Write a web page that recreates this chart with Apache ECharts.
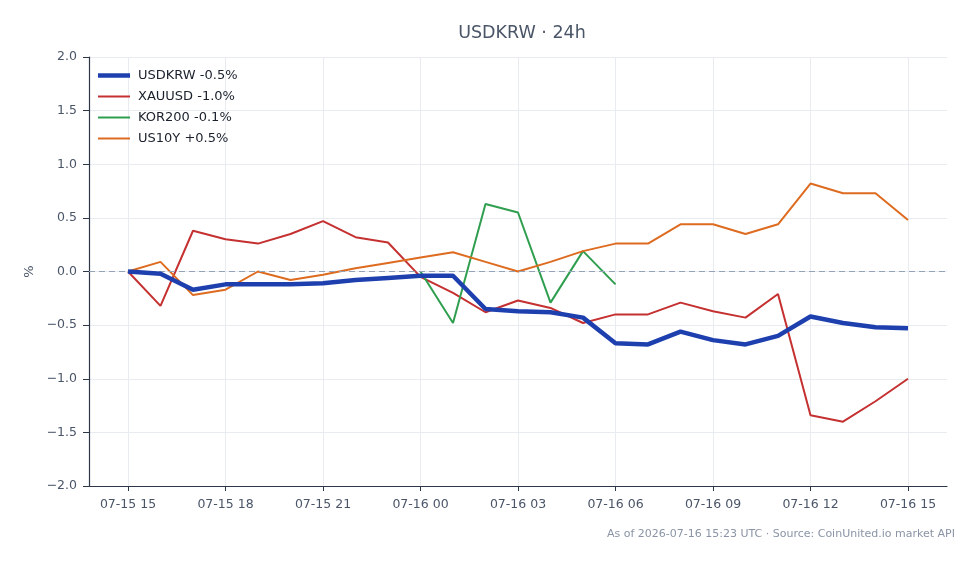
<!DOCTYPE html>
<html>
<head>
<meta charset="utf-8">
<script src="https://cdn.jsdelivr.net/npm/echarts@6/dist/echarts.min.js"></script>
<style>
  html, body { margin: 0; padding: 0; background: #fff; }
  #chart { width: 979px; height: 564px; }
</style>
</head>
<body>
<div id="chart"></div>
<script>
// hours since 07-15 15:00 UTC
var hours = [0,1,2,3,4,5,6,7,8,9,10,11,12,13,14,15,16,17,18,19,20,21,22,23,24];
var tickHours = [0, 3, 6, 9, 12, 15, 18, 21, 24];
var tickLabels = ['07-15 15','07-15 18','07-15 21','07-16 00','07-16 03','07-16 06','07-16 09','07-16 12','07-16 15'];

var usdkrw = [0.00,-0.02,-0.17,-0.12,-0.12,-0.12,-0.11,-0.08,-0.06,-0.04,-0.04,-0.35,-0.37,-0.38,-0.43,-0.67,-0.68,-0.56,-0.64,-0.68,-0.60,-0.42,-0.48,-0.52,-0.53];
var xauusd = [0.00,-0.32,0.38,0.30,0.26,0.35,0.47,0.32,0.27,-0.05,-0.20,-0.38,-0.27,-0.34,-0.48,-0.40,-0.40,-0.29,-0.37,-0.43,-0.21,-1.34,-1.40,-1.21,-1.00];
var kor200Hours = [9,10,11,12,13,14,15];
var kor200 = [0.00,-0.48,0.63,0.55,-0.29,0.19,-0.12];
var us10y = [0.00,0.09,-0.22,-0.17,0.00,-0.08,-0.03,0.03,0.08,0.13,0.18,0.09,0.00,0.09,0.19,0.26,0.26,0.44,0.44,0.35,0.44,0.82,0.73,0.73,0.48];

var names = ['USDKRW -0.5%', 'XAUUSD -1.0%', 'KOR200 -0.1%', 'US10Y +0.5%'];

function pairs(xs, ys) {
  return xs.map(function (x, i) { return [x, ys[i]]; });
}

// flat bar used as legend swatch, h = line thickness
function bar(h) {
  return 'path://M0,0 L32,0 L32,' + h + ' L0,' + h + ' Z';
}

var font = 'DejaVu Sans';
var axisColor = '#2d3748';
var textColor = '#4a5568';
var gridColor = '#e8ecf1';

var chart = echarts.init(document.getElementById('chart'));
chart.setOption({
  animation: false,
  textStyle: { fontFamily: font },
  title: [{
    text: 'USDKRW · 24h',
    left: 517, top: 19, textAlign: 'center',
    textStyle: { fontFamily: font, fontSize: 17.5, fontWeight: 'normal', color: '#4a5568' }
  }, {
    text: 'As of 2026-07-16 15:23 UTC · Source: CoinUnited.io market API',
    right: 19, top: 524,
    textStyle: { fontFamily: font, fontSize: 11, fontWeight: 'normal', color: '#8a94a6' }
  }],
  legend: {
    orient: 'vertical',
    left: 98, top: 69, padding: 0,
    itemWidth: 32, itemHeight: 12, itemGap: 8,
    itemStyle: { borderWidth: 0 },
    textStyle: { fontFamily: font, fontSize: 13, color: '#1a202c', padding: [0, 0, 0, 3] },
    data: [
      { name: names[0], icon: bar(4.5) },
      { name: names[1], icon: bar(2) },
      { name: names[2], icon: bar(2) },
      { name: names[3], icon: bar(2) }
    ]
  },
  grid: { left: 89, right: 32, top: 57, bottom: 78 },
  xAxis: {
    type: 'value',
    min: -1.2, max: 25.2,
    axisLine: { show: true, onZero: false, lineStyle: { color: axisColor, width: 1.2 } },
    axisTick: { show: true, customValues: tickHours, length: 5, lineStyle: { color: axisColor } },
    axisLabel: {
      customValues: tickHours,
      margin: 12,
      fontFamily: font, fontSize: 12.5, color: textColor,
      formatter: function (v) { return tickLabels[tickHours.indexOf(Math.round(v))] || ''; }
    },
    splitLine: { show: true, lineStyle: { color: gridColor, width: 1 } }
  },
  yAxis: {
    type: 'value',
    min: -2, max: 2, interval: 0.5,
    name: '%',
    nameLocation: 'middle',
    nameGap: 52,
    nameTextStyle: { fontFamily: font, fontSize: 13, color: textColor },
    axisLine: { show: true, onZero: false, lineStyle: { color: axisColor, width: 1.2 } },
    axisTick: { show: true, length: 6, lineStyle: { color: axisColor } },
    axisLabel: {
      fontFamily: font, fontSize: 12.5, color: textColor, margin: 12,
      formatter: function (v) { return v.toFixed(1).replace('-', '\u2212'); }
    },
    splitLine: { show: true, lineStyle: { color: gridColor, width: 1 } }
  },
  series: [{
    name: names[0], type: 'line', symbol: 'none', z: 5,
    data: pairs(hours, usdkrw),
    lineStyle: { color: '#1e40af', width: 4.5 },
    itemStyle: { color: '#1e40af' },
    markLine: {
      silent: true, symbol: 'none', label: { show: false },
      lineStyle: { color: '#94a3b8', type: [6, 4], width: 1.2 },
      data: [{ yAxis: 0 }]
    }
  }, {
    name: names[1], type: 'line', symbol: 'none', z: 3,
    data: pairs(hours, xauusd),
    lineStyle: { color: '#c53030', width: 2 },
    itemStyle: { color: '#c53030' }
  }, {
    name: names[2], type: 'line', symbol: 'none', z: 3,
    data: pairs(kor200Hours, kor200),
    lineStyle: { color: '#2f9e4f', width: 2 },
    itemStyle: { color: '#2f9e4f' }
  }, {
    name: names[3], type: 'line', symbol: 'none', z: 3,
    data: pairs(hours, us10y),
    lineStyle: { color: '#dd6b20', width: 2 },
    itemStyle: { color: '#dd6b20' }
  }]
});
</script>
</body>
</html>
